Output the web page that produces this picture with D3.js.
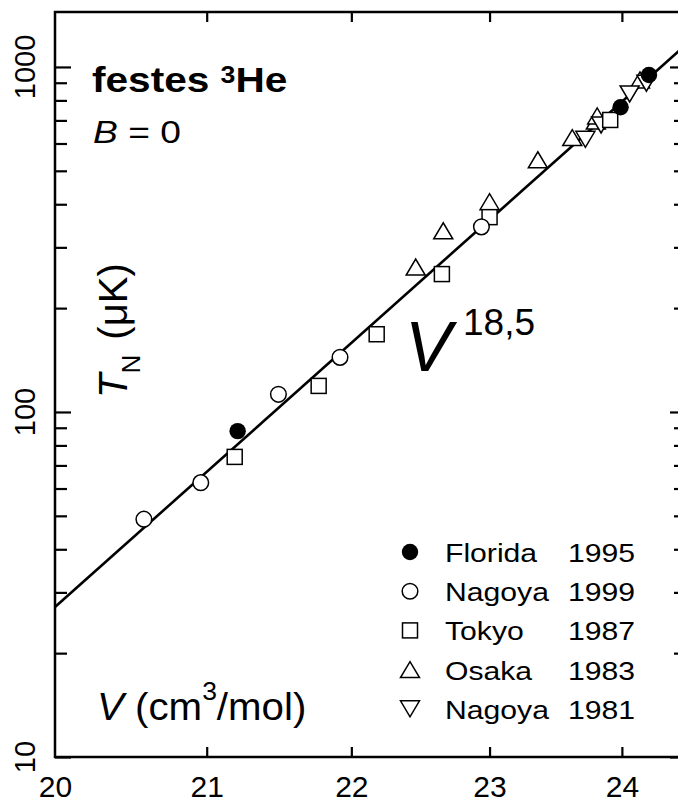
<!DOCTYPE html>
<html>
<head>
<meta charset="utf-8">
<script src="https://cdn.jsdelivr.net/npm/d3@7"></script>
<style>
  body { margin: 0; background: #fff; }
  svg { display: block; overflow: hidden; }
  text { font-family: "Liberation Sans", Arial, sans-serif; fill: #000; }
</style>
</head>
<body>
<div id="chart"></div>
<script>
// data (V in cm3/mol, T_N in microkelvin)
const floridaV = [21.21, 23.99, 24.21];
const floridaT = [88, 764, 948];
const nagoya99V = [20.58, 20.96, 21.49, 21.92, 22.94];
const nagoya99T = [48.9, 62.4, 112.5, 144, 344];
const tokyoV = [21.19, 21.77, 22.18, 22.65, 23.00, 23.91];
const tokyoT = [74.1, 119, 168, 251, 367, 702];
const osakaV = [22.46, 22.66, 23.00, 23.36, 23.62, 23.80, 23.81, 24.14];
const osakaT = [263, 335, 407, 538, 624, 697, 721, 917];
const nagoya81V = [23.72, 23.84, 24.06, 24.19];
const nagoya81T = [617, 679, 835, 897];

// fitted power law line V^18.5
const fitV = [20, 24.5];
const fitT = [27.2, 1161];

const xTicks = [20, 21, 22, 23, 24];
const yMajor = [10, 100, 1000];
const yMinor = [20, 30, 40, 50, 60, 70, 80, 90, 200, 300, 400, 500, 600, 700, 800, 900];

const legendNames = ['Florida', 'Nagoya', 'Tokyo', 'Osaka', 'Nagoya'];
const legendYears = ['1995', '1999', '1987', '1983', '1981'];
const legendShapes = ['dot', 'circle', 'square', 'up', 'down'];

const W = 678, H = 802;
const mLeft = 55, mRight = 686, mTop = 12, mBottom = 757;

const x = d3.scaleLog().domain([20, 24.5]).range([mLeft, mRight]);
const y = d3.scaleLog().domain([10, 1443]).range([mBottom, mTop]);

const svg = d3.select('#chart').append('svg')
	.attr('width', W)
	.attr('height', H);

// ticks
function ticks(axis, tr) {
	const g = svg.append('g').attr('transform', tr).call(axis);
	g.select('.domain').remove();
	g.selectAll('line').attr('stroke', '#000').attr('stroke-width', 2.2);
	return g;
}
ticks(d3.axisLeft(y).tickValues(yMajor).tickSize(-16).tickFormat(''), `translate(${mLeft},0)`);
ticks(d3.axisLeft(y).tickValues(yMinor).tickSize(-12).tickFormat(''), `translate(${mLeft},0)`);
ticks(d3.axisRight(y).tickValues(yMajor).tickSize(-16).tickFormat(''), `translate(${mRight},0)`);
ticks(d3.axisRight(y).tickValues(yMinor).tickSize(-12).tickFormat(''), `translate(${mRight},0)`);
ticks(d3.axisTop(x).tickValues(xTicks.slice(1)).tickSize(-10).tickFormat(''), `translate(0,${mTop})`);
const xb = ticks(d3.axisBottom(x).tickValues(xTicks).tickSize(-10).tickPadding(19).tickFormat(d3.format('d')), `translate(0,${mBottom})`);
xb.selectAll('text').attr('font-size', 30).attr('font-family', '"Liberation Sans", Arial, sans-serif').attr('fill', '#000');
xb.selectAll('.tick').filter(d => d === 20).select('line').remove();

// y tick labels (rotated)
svg.selectAll('.ylab').data(yMajor).enter().append('text')
	.attr('class', 'ylab')
	.attr('transform', d => `translate(35,${y(d)}) rotate(-90)`)
	.attr('text-anchor', 'middle')
	.attr('font-size', 29)
	.text(d => d);

// frame
svg.append('rect')
	.attr('x', mLeft).attr('y', mTop)
	.attr('width', mRight - mLeft).attr('height', mBottom - mTop)
	.attr('fill', 'none').attr('stroke', '#000').attr('stroke-width', 2.5);

// fit line
svg.append('path')
	.datum(fitV.map((v, i) => [v, fitT[i]]))
	.attr('d', d3.line().x(d => x(d[0])).y(d => y(d[1])))
	.attr('fill', 'none').attr('stroke', '#000').attr('stroke-width', 2.6);

// markers
function marker(g, shape, cx, cy) {
	const sw = 1.5;
	if (shape === 'dot') {
		g.append('circle').attr('cx', cx).attr('cy', cy).attr('r', 8.2).attr('fill', '#000');
	} else if (shape === 'circle') {
		g.append('circle').attr('cx', cx).attr('cy', cy).attr('r', 7.8)
			.attr('fill', '#fff').attr('stroke', '#000').attr('stroke-width', sw);
	} else if (shape === 'square') {
		g.append('rect').attr('x', cx - 7.5).attr('y', cy - 7.5).attr('width', 15).attr('height', 15)
			.attr('fill', '#fff').attr('stroke', '#000').attr('stroke-width', sw);
	} else {
		const s = shape === 'up' ? 1 : -1;
		const p = [[cx - 9.5, cy + 8 * s], [cx + 9.5, cy + 8 * s], [cx, cy - 8 * s]];
		g.append('path').attr('d', 'M' + p.join('L') + 'Z')
			.attr('fill', '#fff').attr('stroke', '#000').attr('stroke-width', sw);
	}
}

const series = [
	[osakaV, osakaT, 'up'],
	[nagoya81V, nagoya81T, 'down'],
	[tokyoV, tokyoT, 'square'],
	[nagoya99V, nagoya99T, 'circle'],
	[floridaV, floridaT, 'dot']
];
const pts = svg.append('g');
series.forEach(s => {
	s[0].forEach((v, i) => marker(pts, s[2], x(v), y(s[1][i])));
});

// legend
const lg = svg.append('g');
legendNames.forEach((n, i) => {
	const base = 562 + i * 39.2;
	marker(lg, legendShapes[i], 410, base - 10);
	lg.append('text').attr('transform', `translate(445,${base}) scale(1.16,1)`)
		.attr('font-size', 26).text(n);
	lg.append('text').attr('transform', `translate(568,${base}) scale(1.16,1)`)
		.attr('font-size', 26).text(legendYears[i]);
});

// annotations
const t1 = svg.append('text').attr('transform', 'translate(92,92) scale(1.16,1)')
	.attr('font-size', 35).attr('font-weight', 'bold');
t1.append('tspan').text('festes ');
t1.append('tspan').attr('font-size', 23).attr('dy', -9).text('3');
t1.append('tspan').attr('dy', 9).text('He');

const t2 = svg.append('text').attr('transform', 'translate(93,143) scale(1.2,1)').attr('font-size', 31);
t2.append('tspan').attr('font-style', 'italic').text('B');
t2.append('tspan').text(' = 0');

const t3 = svg.append('text').attr('transform', 'translate(127,398) rotate(-90)').attr('font-size', 40);
t3.append('tspan').attr('font-style', 'italic').text('T');
t3.append('tspan').attr('font-size', 26).attr('dy', 13).text('N');
t3.append('tspan').attr('dy', -13).attr('dx', 4).text(' (\u03bcK)');

svg.append('text').attr('x', 405).attr('y', 371).attr('font-size', 70).attr('font-style', 'italic').text('V');
svg.append('text').attr('x', 463).attr('y', 335).attr('font-size', 37).text('18,5');

const t4 = svg.append('text').attr('transform', 'translate(97,720) scale(1.06,1)').attr('font-size', 38);
t4.append('tspan').attr('font-style', 'italic').text('V');
t4.append('tspan').text(' (cm');
t4.append('tspan').attr('font-size', 25).attr('dy', -20).text('3');
t4.append('tspan').attr('dy', 20).text('/mol)');
</script>
</body>
</html>
